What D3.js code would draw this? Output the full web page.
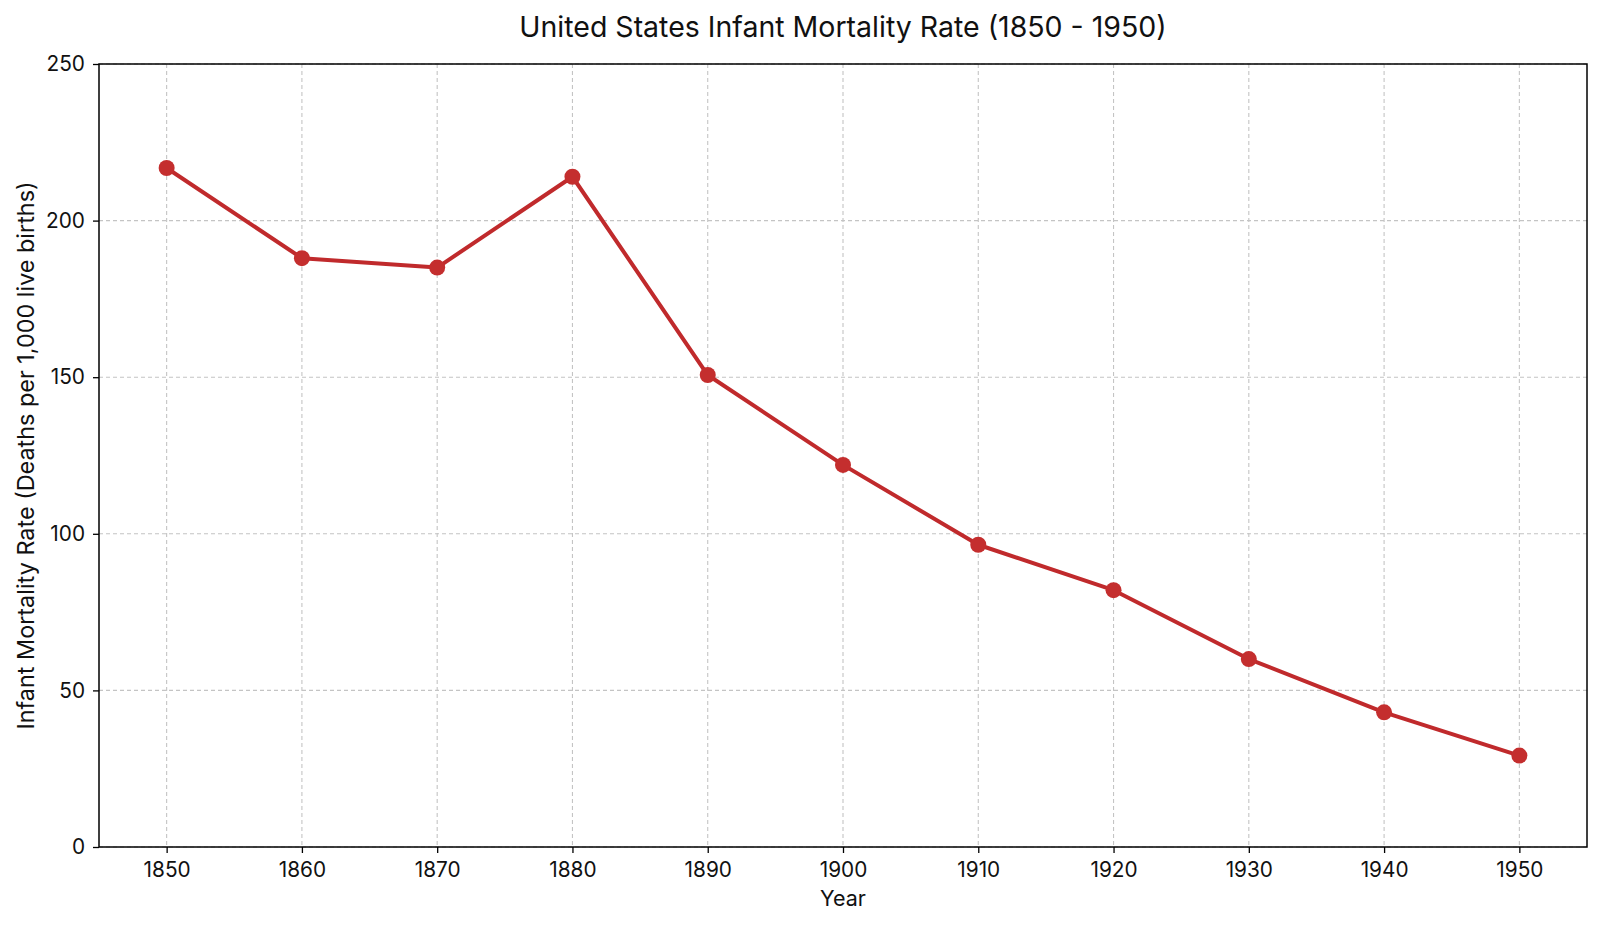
<!DOCTYPE html>
<html>
<head>
<meta charset="utf-8">
<script src="https://cdn.jsdelivr.net/npm/d3@7"></script>
<style>
  body { margin: 0; background: #fff; }
  svg text { font-family: Inter, Roboto, "Noto Sans", sans-serif; fill: #111; }
</style>
</head>
<body>
<svg id="chart" width="1600" height="925"></svg>
<script>
// data
var years = [1850, 1860, 1870, 1880, 1890, 1900, 1910, 1920, 1930, 1940, 1950];
var rates = [216.8, 188.0, 185.0, 214.0, 150.7, 122.0, 96.5, 82.0, 60.0, 43.0, 29.2];
var yTicks = [0, 50, 100, 150, 200, 250];

var title = "United States Infant Mortality Rate (1850 - 1950)";
var xLabel = "Year";
var yLabel = "Infant Mortality Rate (Deaths per 1,000 live births)";

var margin = {top: 64, right: 13, bottom: 78, left: 99};
var width = 1600, height = 925;
var innerW = width - margin.left - margin.right;
var innerH = height - margin.top - margin.bottom;

var svg = d3.select("#chart");
var g = svg.append("g").attr("transform", "translate(" + margin.left + "," + margin.top + ")");

var x = d3.scaleLinear().domain([1845, 1955]).range([0, innerW]);
var y = d3.scaleLinear().domain([0, 250]).range([innerH, 0]);

// grid
g.append("g").selectAll("line").data(years).enter().append("line")
    .attr("x1", function(d) { return x(d); })
    .attr("x2", function(d) { return x(d); })
    .attr("y1", 0).attr("y2", innerH)
    .attr("stroke", "#c4c4c4").attr("stroke-width", 1.1)
    .attr("stroke-dasharray", "4,3");
g.append("g").selectAll("line").data(yTicks).enter().append("line")
    .attr("x1", 0).attr("x2", innerW)
    .attr("y1", function(d) { return y(d); })
    .attr("y2", function(d) { return y(d); })
    .attr("stroke", "#c4c4c4").attr("stroke-width", 1.1)
    .attr("stroke-dasharray", "4,3");

// axes
var xAxis = g.append("g").attr("transform", "translate(0," + innerH + ")")
    .call(d3.axisBottom(x).tickValues(years).tickFormat(d3.format("d")).tickSize(6).tickPadding(9));
var yAxis = g.append("g")
    .call(d3.axisLeft(y).tickValues(yTicks).tickSize(6).tickPadding(8));
[xAxis, yAxis].forEach(function(a) {
    a.select(".domain").remove();
    a.selectAll(".tick line").attr("stroke", "#000").attr("stroke-width", 1.3);
    a.selectAll("text").attr("font-size", 20.8).attr("fill", "#111");
});

// frame
g.append("rect").attr("width", innerW).attr("height", innerH)
    .attr("fill", "none").attr("stroke", "#000").attr("stroke-width", 1.5);

// line + markers
var pts = years.map(function(yr, i) { return {year: yr, rate: rates[i]}; });
var line = d3.line().x(function(d) { return x(d.year); }).y(function(d) { return y(d.rate); });
g.append("path").datum(pts)
    .attr("d", line)
    .attr("fill", "none")
    .attr("stroke", "#c02a2c")
    .attr("stroke-width", 4)
    .attr("stroke-linejoin", "round");
g.selectAll("circle").data(pts).enter().append("circle")
    .attr("cx", function(d) { return x(d.year); })
    .attr("cy", function(d) { return y(d.rate); })
    .attr("r", 8)
    .attr("fill", "#c42e2e");

// labels
svg.append("text").attr("x", margin.left + innerW / 2).attr("y", 37)
    .attr("text-anchor", "middle").attr("font-size", 28.5).text(title);
svg.append("text").attr("x", margin.left + innerW / 2).attr("y", 906)
    .attr("text-anchor", "middle").attr("font-size", 21.5).text(xLabel);
svg.append("text")
    .attr("transform", "translate(34," + (margin.top + innerH / 2) + ") rotate(-90)")
    .attr("text-anchor", "middle").attr("font-size", 23.4).text(yLabel);
</script>
</body>
</html>
